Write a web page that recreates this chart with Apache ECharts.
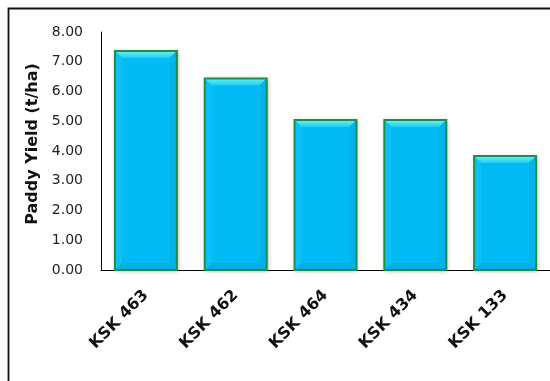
<!DOCTYPE html>
<html>
<head>
<meta charset="utf-8">
<script src="https://cdn.jsdelivr.net/npm/echarts@6/dist/echarts.min.js"></script>
<style>
  html, body { margin: 0; padding: 0; background: #fff; }
  #chart { width: 550px; height: 381px; }
</style>
</head>
<body>
<div id="chart"></div>
<script>
// Paddy yield per variety
const varieties = ['KSK 463', 'KSK 462', 'KSK 464', 'KSK 434', 'KSK 133'];
const yields = [7.36, 6.44, 5.04, 5.04, 3.83];
const yTicks = { min: 0, max: 8, step: 1 };

const FILL = '#02bbf5';
const EDGE = '#1b8f4c';

// Bevelled bar: body, four bevel facets, then the green outline on top
function bevelBar(params, api) {
  const cat = api.value(0);
  const val = api.value(1);
  const top = api.coord([cat, val]);
  const base = api.coord([cat, 0]);
  const w = api.size([1, 0])[0] * 0.69;
  const x0 = top[0] - w / 2, x1 = top[0] + w / 2;
  const y0 = top[1], y1 = base[1];
  const b = 7;
  return {
    type: 'group',
    children: [
      { type: 'rect', shape: { x: x0, y: y0, width: w, height: y1 - y0 },
        style: { fill: FILL, shadowBlur: 4, shadowColor: 'rgba(0,0,0,0.35)', shadowOffsetX: 1, shadowOffsetY: 1 } },
      { type: 'polygon', shape: { points: [[x0, y0], [x1, y0], [x1 - b, y0 + b], [x0 + b, y0 + b]] },
        style: { fill: new echarts.graphic.LinearGradient(0, 0, 0, 1, [
          { offset: 0, color: '#6af4ee' }, { offset: 1, color: '#20cbf4' }]) } },
      { type: 'polygon', shape: { points: [[x0, y1], [x1, y1], [x1 - b, y1 - b], [x0 + b, y1 - b]] },
        style: { fill: '#07ace4' } },
      { type: 'polygon', shape: { points: [[x0, y0], [x0 + b, y0 + b], [x0 + b, y1 - b], [x0, y1]] },
        style: { fill: '#0bc1f6' } },
      { type: 'polygon', shape: { points: [[x1, y0], [x1 - b, y0 + b], [x1 - b, y1 - b], [x1, y1]] },
        style: { fill: '#04b2ea' } },
      { type: 'rect', shape: { x: x0, y: y0, width: w, height: y1 - y0 },
        style: { fill: 'none', stroke: EDGE, lineWidth: 2 } }
    ]
  };
}

const chart = echarts.init(document.getElementById('chart'), null, { renderer: 'canvas' });
chart.setOption({
  animation: false,
  backgroundColor: '#fff',
  graphic: [{
    type: 'rect', z: 100,
    shape: { x: 8.5, y: 8.5, width: 600, height: 420 },
    style: { fill: 'none', stroke: '#111', lineWidth: 1.8 }
  }],
  grid: { left: 101, top: 32, width: 453, height: 238 },
  xAxis: {
    type: 'category',
    data: varieties,
    axisLine: { lineStyle: { color: '#000', width: 1 } },
    axisTick: { show: false },
    axisLabel: {
      rotate: 45, margin: 23, interval: 0,
      fontFamily: 'DejaVu Sans', fontWeight: 'bold', fontSize: 16, color: '#111'
    }
  },
  yAxis: {
    type: 'value',
    min: yTicks.min, max: yTicks.max, interval: yTicks.step,
    name: 'Paddy Yield (t/ha)',
    nameLocation: 'middle', nameRotate: 90, nameGap: 56,
    nameTextStyle: { fontFamily: 'DejaVu Sans', fontWeight: 'bold', fontSize: 16, color: '#111', padding: [0, 0, 0, 14] },
    axisLine: { show: true, lineStyle: { color: '#000', width: 1 } },
    axisTick: { show: false },
    splitLine: { show: false },
    axisLabel: {
      margin: 18,
      formatter: v => v.toFixed(2),
      fontFamily: 'DejaVu Sans', fontSize: 14, color: '#222'
    }
  },
  series: [{
    type: 'custom',
    renderItem: bevelBar,
    encode: { x: 0, y: 1 },
    data: yields.map((v, i) => [i, v])
  }]
});
</script>
</body>
</html>
